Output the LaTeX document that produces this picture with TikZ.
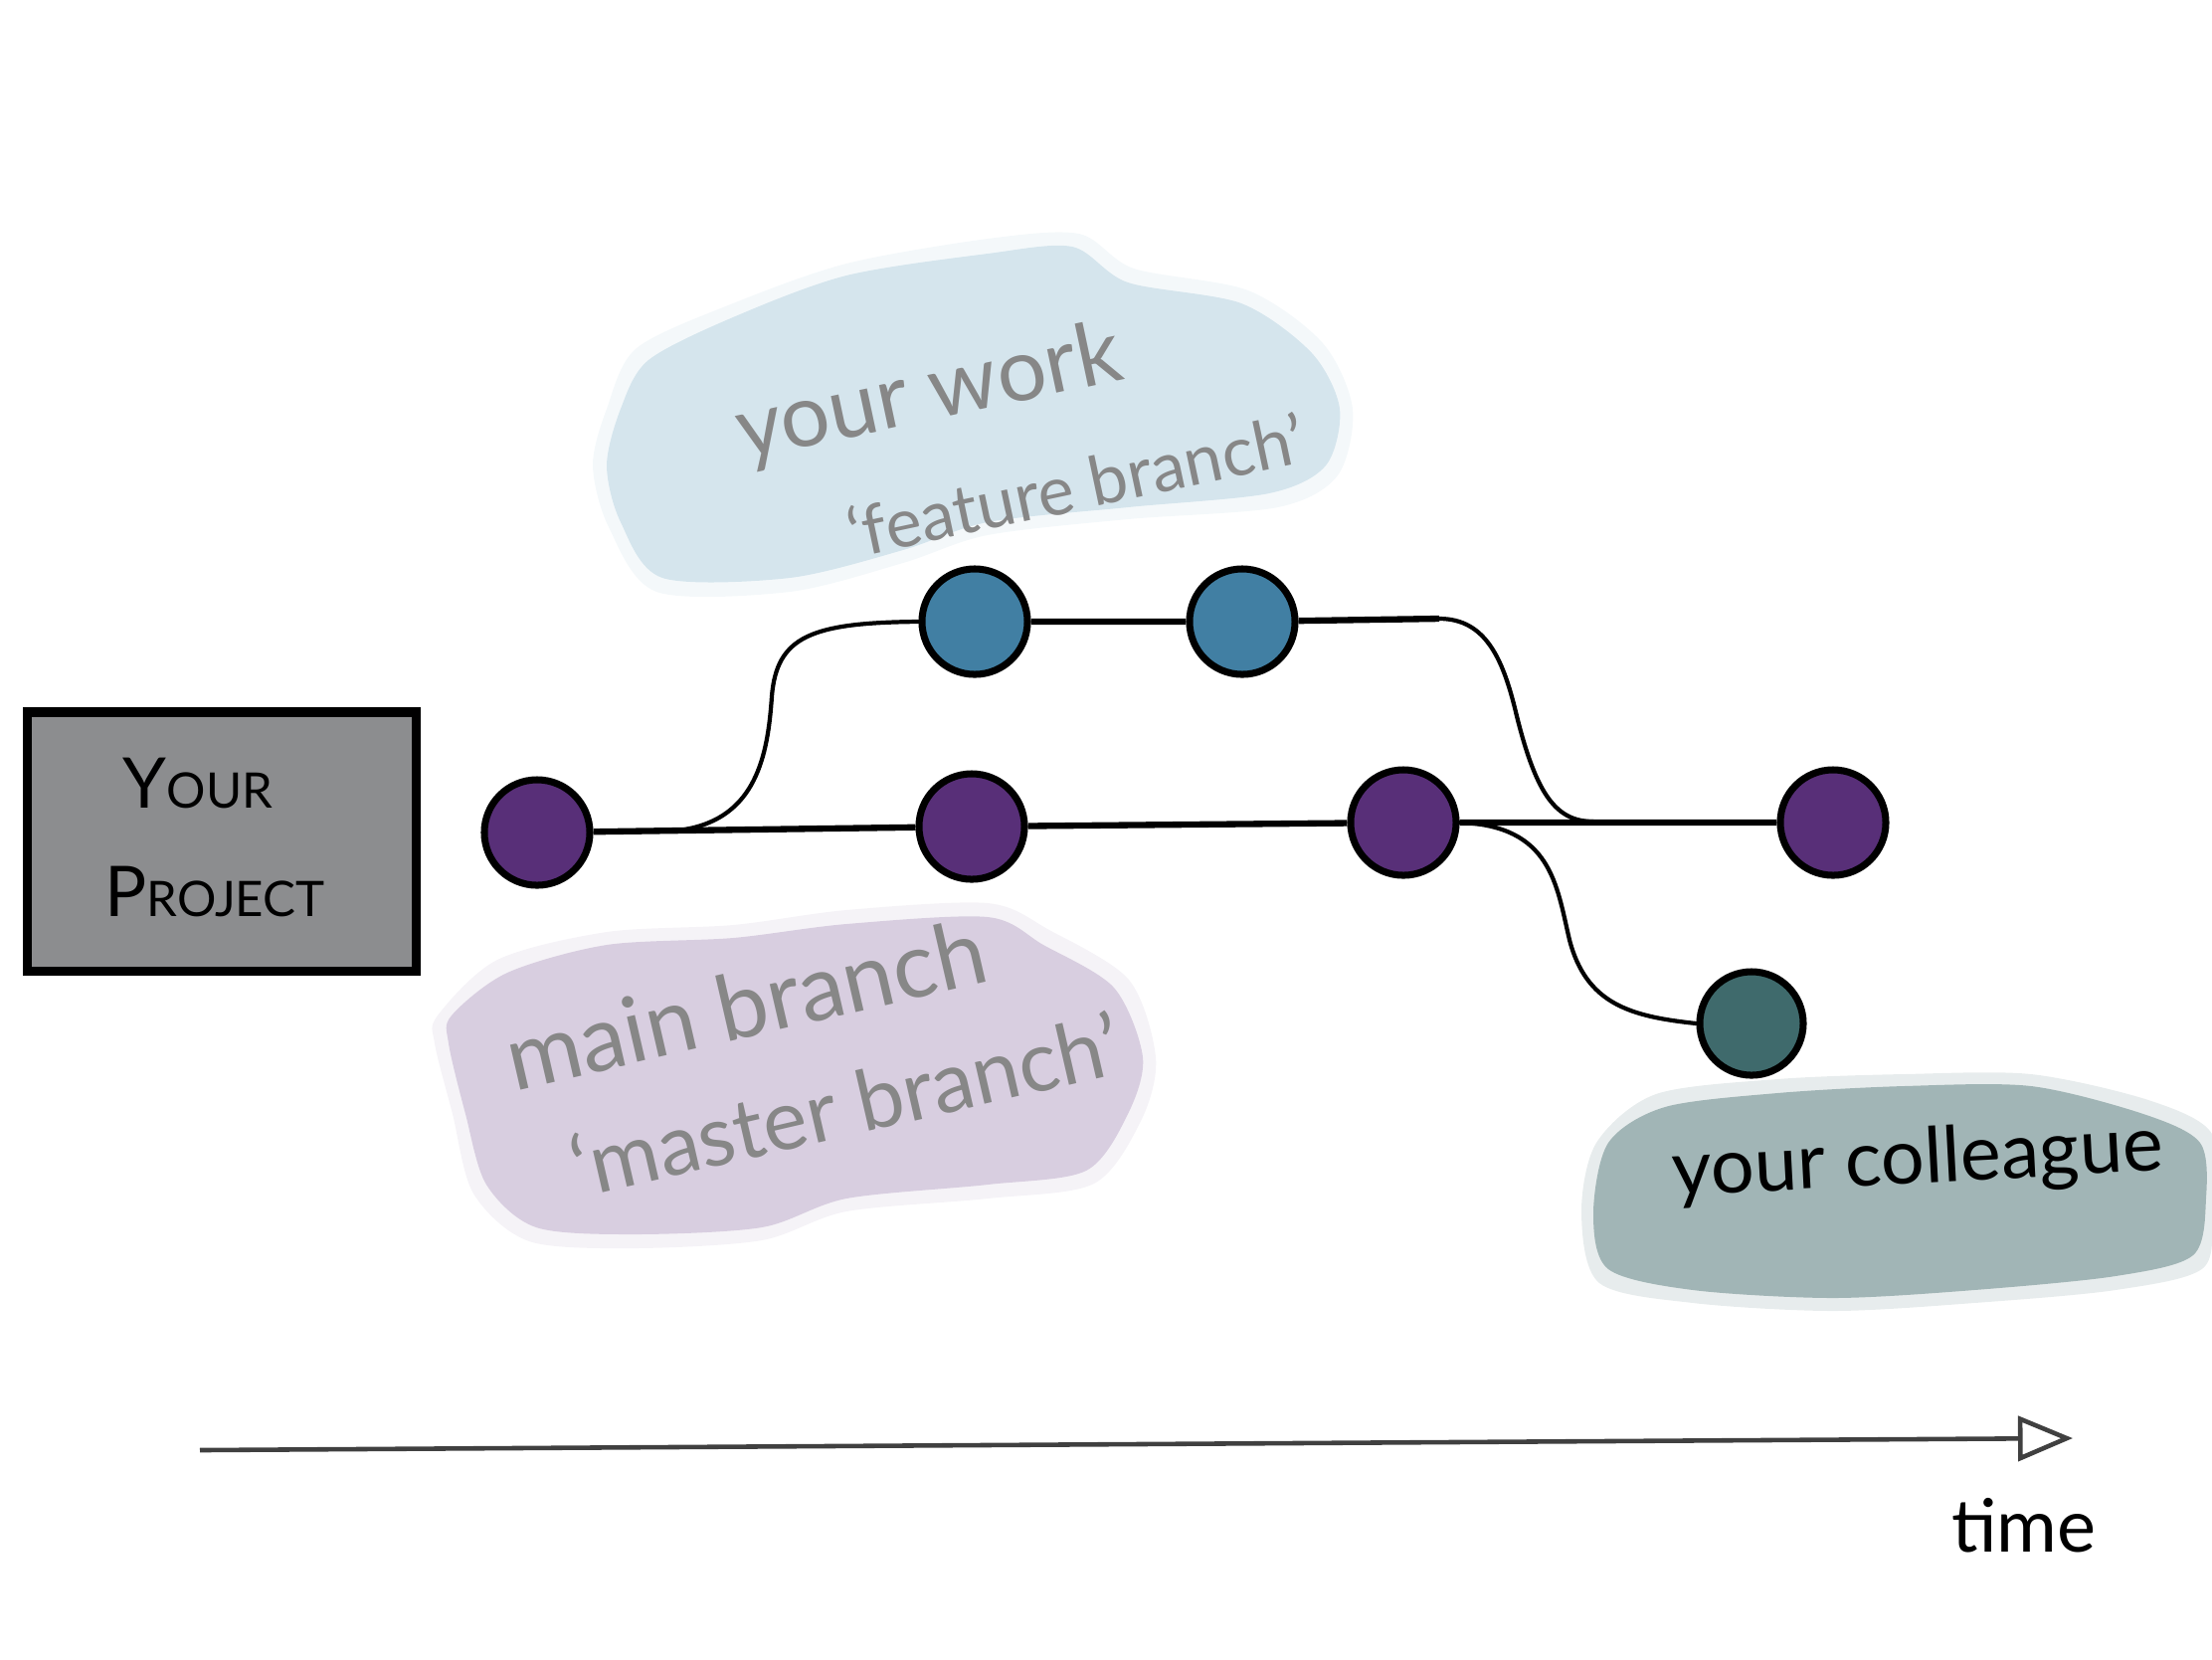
\documentclass[tikz,border=0pt]{standalone}
\usepackage{fontspec}
\setmainfont{Lato}
\usepackage{tikz}
\usetikzlibrary{arrows.meta, calc}

\definecolor{mainpurple}{HTML}{582F78}
\definecolor{featblue}{HTML}{417FA3}
\definecolor{colteal}{HTML}{3F6A6C}
\definecolor{washblue}{HTML}{D5E5ED}
\definecolor{washpurple}{HTML}{D8CEE0}
\definecolor{washteal}{HTML}{A1B5B6}
\definecolor{projgray}{HTML}{8C8D8F}
\definecolor{notegray}{HTML}{878787}

\begin{document}
\begin{tikzpicture}[x=0.01cm, y=-0.01cm,
    commit/.style={circle, draw=black, line width=2pt, minimum size=1.06cm, inner sep=0pt},
    trunkline/.style={line width=1.8pt},
    branchline/.style={line width=1.2pt, line cap=round},
    handnote/.style={text=notegray, align=left, font=\fontsize{25}{34}\selectfont, inner sep=0pt},
    wash/.style={fill opacity=0.25}]

\useasboundingbox (0,0) rectangle (2224,1668);

% colour washes behind the notes
\fill[washblue, wash] plot[smooth cycle] coordinates {(610,411) (640,350) (737,305) (851,265) (993,240) (1085,235) (1140,270) (1255,292) (1330,345) (1360,411) (1345,478) (1285,510) (1134,522) (993,538) (908,566) (794,595) (660,595) (612,530) (596,468)};
\fill[washblue] plot[smooth cycle] coordinates {(624,411) (652,362) (737,319) (851,277) (993,255) (1078,248) (1134,284) (1248,305) (1319,355) (1347,411) (1333,468) (1276,496) (1134,510) (993,525) (908,553) (794,581) (666,581) (624,525) (610,468)};

\fill[washpurple, wash] plot[smooth cycle] coordinates {(440,1021) (500,965) (610,937) (737,930) (851,915) (993,908) (1055,935) (1135,985) (1162,1063) (1148,1125) (1100,1190) (993,1205) (851,1218) (766,1247) (638,1255) (532,1248) (476,1200) (455,1120) (437,1049)};
\fill[washpurple] plot[smooth cycle] coordinates {(454,1021) (510,978) (610,950) (737,943) (851,929) (993,922) (1049,950) (1120,993) (1149,1063) (1134,1120) (1092,1177) (993,1191) (851,1205) (766,1234) (638,1241) (539,1234) (489,1191) (468,1120) (451,1049)};

\fill[washteal, wash] plot[smooth cycle] coordinates {(1605,1149) (1665,1100) (1787,1085) (1914,1080) (2042,1080) (2160,1106) (2224,1140) (2224,1215) (2215,1275) (2127,1297) (1985,1310) (1843,1318) (1702,1310) (1608,1290) (1590,1220)};
\fill[washteal] plot[smooth cycle] coordinates {(1617,1149) (1674,1113) (1787,1099) (1914,1092) (2042,1092) (2155,1120) (2212,1149) (2218,1205) (2205,1262) (2127,1283) (1985,1297) (1843,1305) (1702,1297) (1617,1276) (1602,1220)};

% project box
\node[draw=black, line width=2.6pt, fill=projgray, minimum width=3.9cm, minimum height=2.6cm] (project) at (223,846) {};
\node[font=\fontsize{14}{16}\selectfont, inner sep=0pt] (your) at (199,787) {{\fontsize{20}{22}\selectfont Y}OUR};
\node[font=\fontsize{14}{16}\selectfont, inner sep=0pt] (proj) at (216,896) {{\fontsize{20}{22}\selectfont P}ROJECT};

% commits
\foreach \name/\x/\y in {m1/540/837, m2/977/831, m3/1411/827, m4/1843/827}
    \node[commit, fill=mainpurple] (\name) at (\x,\y) {};
\foreach \name/\x/\y in {f1/980/625, f2/1249/625}
    \node[commit, fill=featblue] (\name) at (\x,\y) {};
\node[commit, fill=colteal, minimum size=1.04cm] (c1) at (1761,1029) {};

\coordinate (fork) at (688,834);
\coordinate (bend) at (1447,622);
\coordinate (merge) at (1602,826);

% branches
\draw[trunkline] (m1) -- (m2) -- (m3) -- (m4);
\draw[trunkline] (f1) -- (f2) -- (bend);
\draw[branchline] (fork) .. controls (760,822) and (772,760) .. (776,700)
    .. controls (781,640) and (815,626) .. (f1.west);
\draw[branchline] (bend) .. controls (1495,622) and (1512,665) .. (1525,720)
    .. controls (1545,800) and (1565,826) .. (merge);
\draw[branchline] (m3.east) .. controls (1560,830) and (1565,890) .. (1578,945)
    .. controls (1595,1010) and (1640,1022) .. (c1.west);

% notes
\node[handnote, rotate=12] (work) at (1025,432)
    {{\fontsize{25}{31}\selectfont your work}\\\hspace*{1em}{\fontsize{19.5}{31}\selectfont`feature branch'}};
\node[handnote, rotate=13] (main) at (817,1055)
    {{\fontsize{26}{34}\selectfont main branch}\\\hspace*{0.45em}{\fontsize{24}{34}\selectfont`master branch'}};
\node[handnote, text=black, rotate=3, font=\fontsize{22}{26}\selectfont] (colleague) at (1928,1168) {your colleague};

% time axis
\coordinate (tstart) at (201,1458);
\coordinate (tend) at (2084,1446);
\draw[line width=1.3pt, black!75, -{Triangle[open, length=0.55cm, width=0.45cm, line width=1.3pt]}] (tstart) -- (tend);
\node[font=\fontsize{21}{24}\selectfont, inner sep=0pt] (time) at (2035,1534) {time};
\end{tikzpicture}
\end{document}
